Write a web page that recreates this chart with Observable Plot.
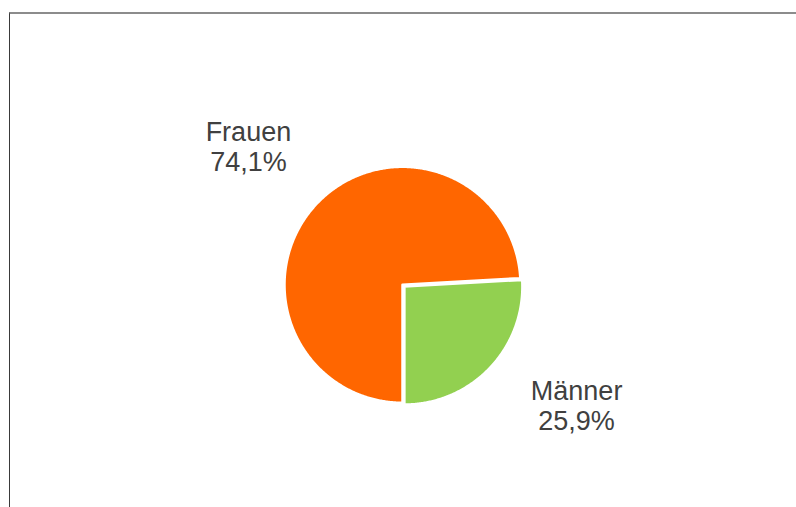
<!DOCTYPE html>
<html>
<head>
<meta charset="utf-8">
<script src="https://cdn.jsdelivr.net/npm/d3@7"></script>
<script src="https://cdn.jsdelivr.net/npm/@observablehq/plot@0.6"></script>
<style>
  html, body { margin: 0; padding: 0; background: #fff; }
  #wrap { position: relative; width: 796px; height: 507px; overflow: hidden; }
  #frame { position: absolute; left: 9px; top: 12px; right: -10px; bottom: -10px;
           border-top: 2px solid #8c8c8c; border-left: 1px solid #3a3a3a; pointer-events: none; }
  svg { display: block; }
</style>
</head>
<body>
<div id="wrap"><div id="frame"></div></div>
<script>
const categories = ["Frauen", "Männer"];
const shares = [74.1, 25.9];
const colors = ["#FF6600", "#92D050"];

const W = 796, H = 507;
const CX = 402, CY = 284.3, R = 118;
const startDeg = 180;           // first slice starts at 6 o'clock, clockwise
const explode = [0, 0.022];

const total = d3.sum(shares);
const slices = [];
let a0 = startDeg;
categories.forEach((name, i) => {
  const span = shares[i] / total * 360;
  slices.push({name, value: shares[i], color: colors[i], a0, a1: a0 + span, mid: a0 + span / 2, ex: explode[i]});
  a0 += span;
});

const rad = d => d * Math.PI / 180;
const pts = [];
for (const s of slices) {
  const ox = Math.sin(rad(s.mid)) * s.ex, oy = -Math.cos(rad(s.mid)) * s.ex;
  pts.push({name: s.name, color: s.color, x: ox, y: oy});
  const n = Math.ceil(s.a1 - s.a0) * 2;
  for (let k = 0; k <= n; k++) {
    const a = rad(s.a0 + (s.a1 - s.a0) * k / n);
    pts.push({name: s.name, color: s.color, x: ox + Math.sin(a), y: oy - Math.cos(a)});
  }
}

const fmt = v => v.toFixed(1).replace(".", ",") + "%";
const labels = slices.map(s => ({
  name: s.name,
  text: s.name + "\n" + fmt(s.value),
  x: Math.sin(rad(s.mid)) * 1.75,
  y: -Math.cos(rad(s.mid)) * 1.75
}));

const textStyle = {fontSize: 27, fill: "#404040", lineHeight: 1.11, textAnchor: "middle"};

const chart = Plot.plot({
  width: W, height: H,
  margin: 0,
  style: {fontFamily: "'Liberation Sans', Arial, sans-serif", background: "transparent", overflow: "visible"},
  x: {domain: [-CX / R, (W - CX) / R], range: [0, W], axis: null},
  y: {domain: [-CY / R, (H - CY) / R], range: [0, H], axis: null},
  marks: [
    Plot.line(pts, {x: "x", y: "y", z: "name", fill: "color", stroke: "white", strokeWidth: 2.5, curve: "linear-closed"}),
    Plot.text(labels.filter(d => d.name === "Frauen"), {x: "x", y: "y", text: "text", dx: -4, dy: 3, ...textStyle}),
    Plot.text(labels.filter(d => d.name === "Männer"), {x: "x", y: "y", text: "text", dx: 24, dy: -21, ...textStyle})
  ]
});
document.getElementById("wrap").prepend(chart);
</script>
</body>
</html>
